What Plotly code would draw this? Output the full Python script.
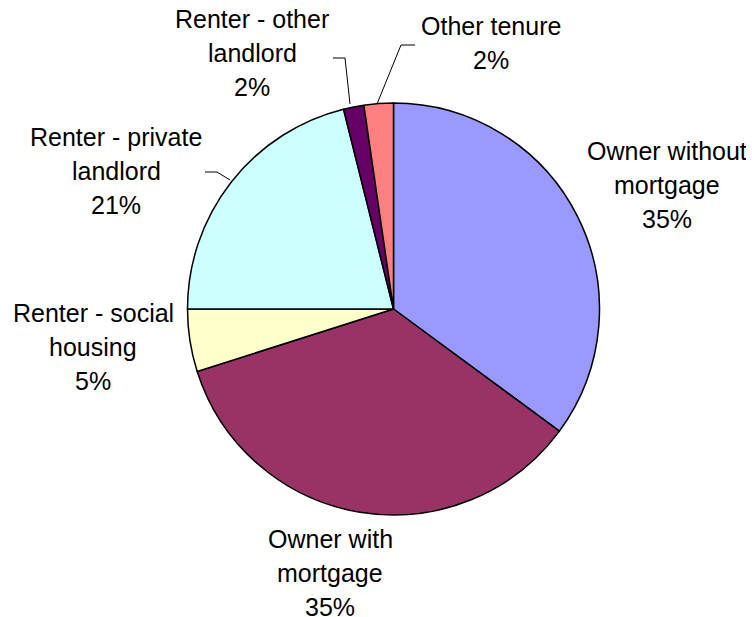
import plotly.graph_objects as go

categories = [
    "Owner without mortgage",
    "Owner with mortgage",
    "Renter - social housing",
    "Renter - private landlord",
    "Renter - other landlord",
    "Other tenure",
]
shares = [35.1, 35.0, 4.9, 21.1, 1.6, 2.3]
colors = ["#9999FF", "#993366", "#FFFFCC", "#CCFFFF", "#660066", "#FF8080"]

# where each label's first line breaks
label_lines = [
    ["Owner without", "mortgage"],
    ["Owner with", "mortgage"],
    ["Renter - social", "housing"],
    ["Renter - private", "landlord"],
    ["Renter - other", "landlord"],
    ["Other tenure"],
]

# the page body has an 8px margin, so the figure sits 8px in from the window corner
OFF = 8
W, H = 754 - OFF, 617 - OFF
cx, cy, r = 393.5, 309, 206
LINE = 34

# label block centres in window pixels
label_pos = [(667, 185), (330, 573), (93, 347), (116, 171), (252, 53), (491, 43)]

# leader lines (window pixels) for the small slices
leaders = [
    [(350, 104), (345, 58), (333, 58)],
    [(377, 104), (401, 45), (415, 45)],
    [(230, 180), (217, 172), (205, 172)],
]


def px(x, y):
    return (x - OFF) / W, 1 - (y - OFF) / H


x0, y1 = px(cx - r, cy - r)
x1, y0 = px(cx + r, cy + r)

fig = go.Figure(go.Pie(
    labels=categories,
    values=shares,
    sort=False,
    direction="clockwise",
    rotation=0,
    textinfo="none",
    hoverinfo="label+percent",
    marker=dict(colors=colors, line=dict(color="black", width=1.5)),
    domain=dict(x=[x0, x1], y=[y0, y1]),
    showlegend=False,
))

total = sum(shares)
for lines, v, (x, y) in zip(label_lines, shares, label_pos):
    rows = lines + [f"{round(v / total * 100)}%"]
    for i, row in enumerate(rows):
        ax, ay = px(x, y + (i - (len(rows) - 1) / 2) * LINE)
        fig.add_annotation(
            x=ax, y=ay, xref="paper", yref="paper",
            text=row, showarrow=False,
            xanchor="center", yanchor="middle",
            font=dict(family="Arial, Liberation Sans, sans-serif", size=25, color="black"),
        )

for pts in leaders:
    path = "M " + " L ".join("{},{}".format(*px(x, y)) for x, y in pts)
    fig.add_shape(type="path", path=path, xref="paper", yref="paper",
                  line=dict(color="black", width=1))

fig.update_layout(
    width=W, height=H,
    margin=dict(l=0, r=0, t=0, b=0),
    paper_bgcolor="white",
    plot_bgcolor="white",
)

fig.write_html("out.html")
